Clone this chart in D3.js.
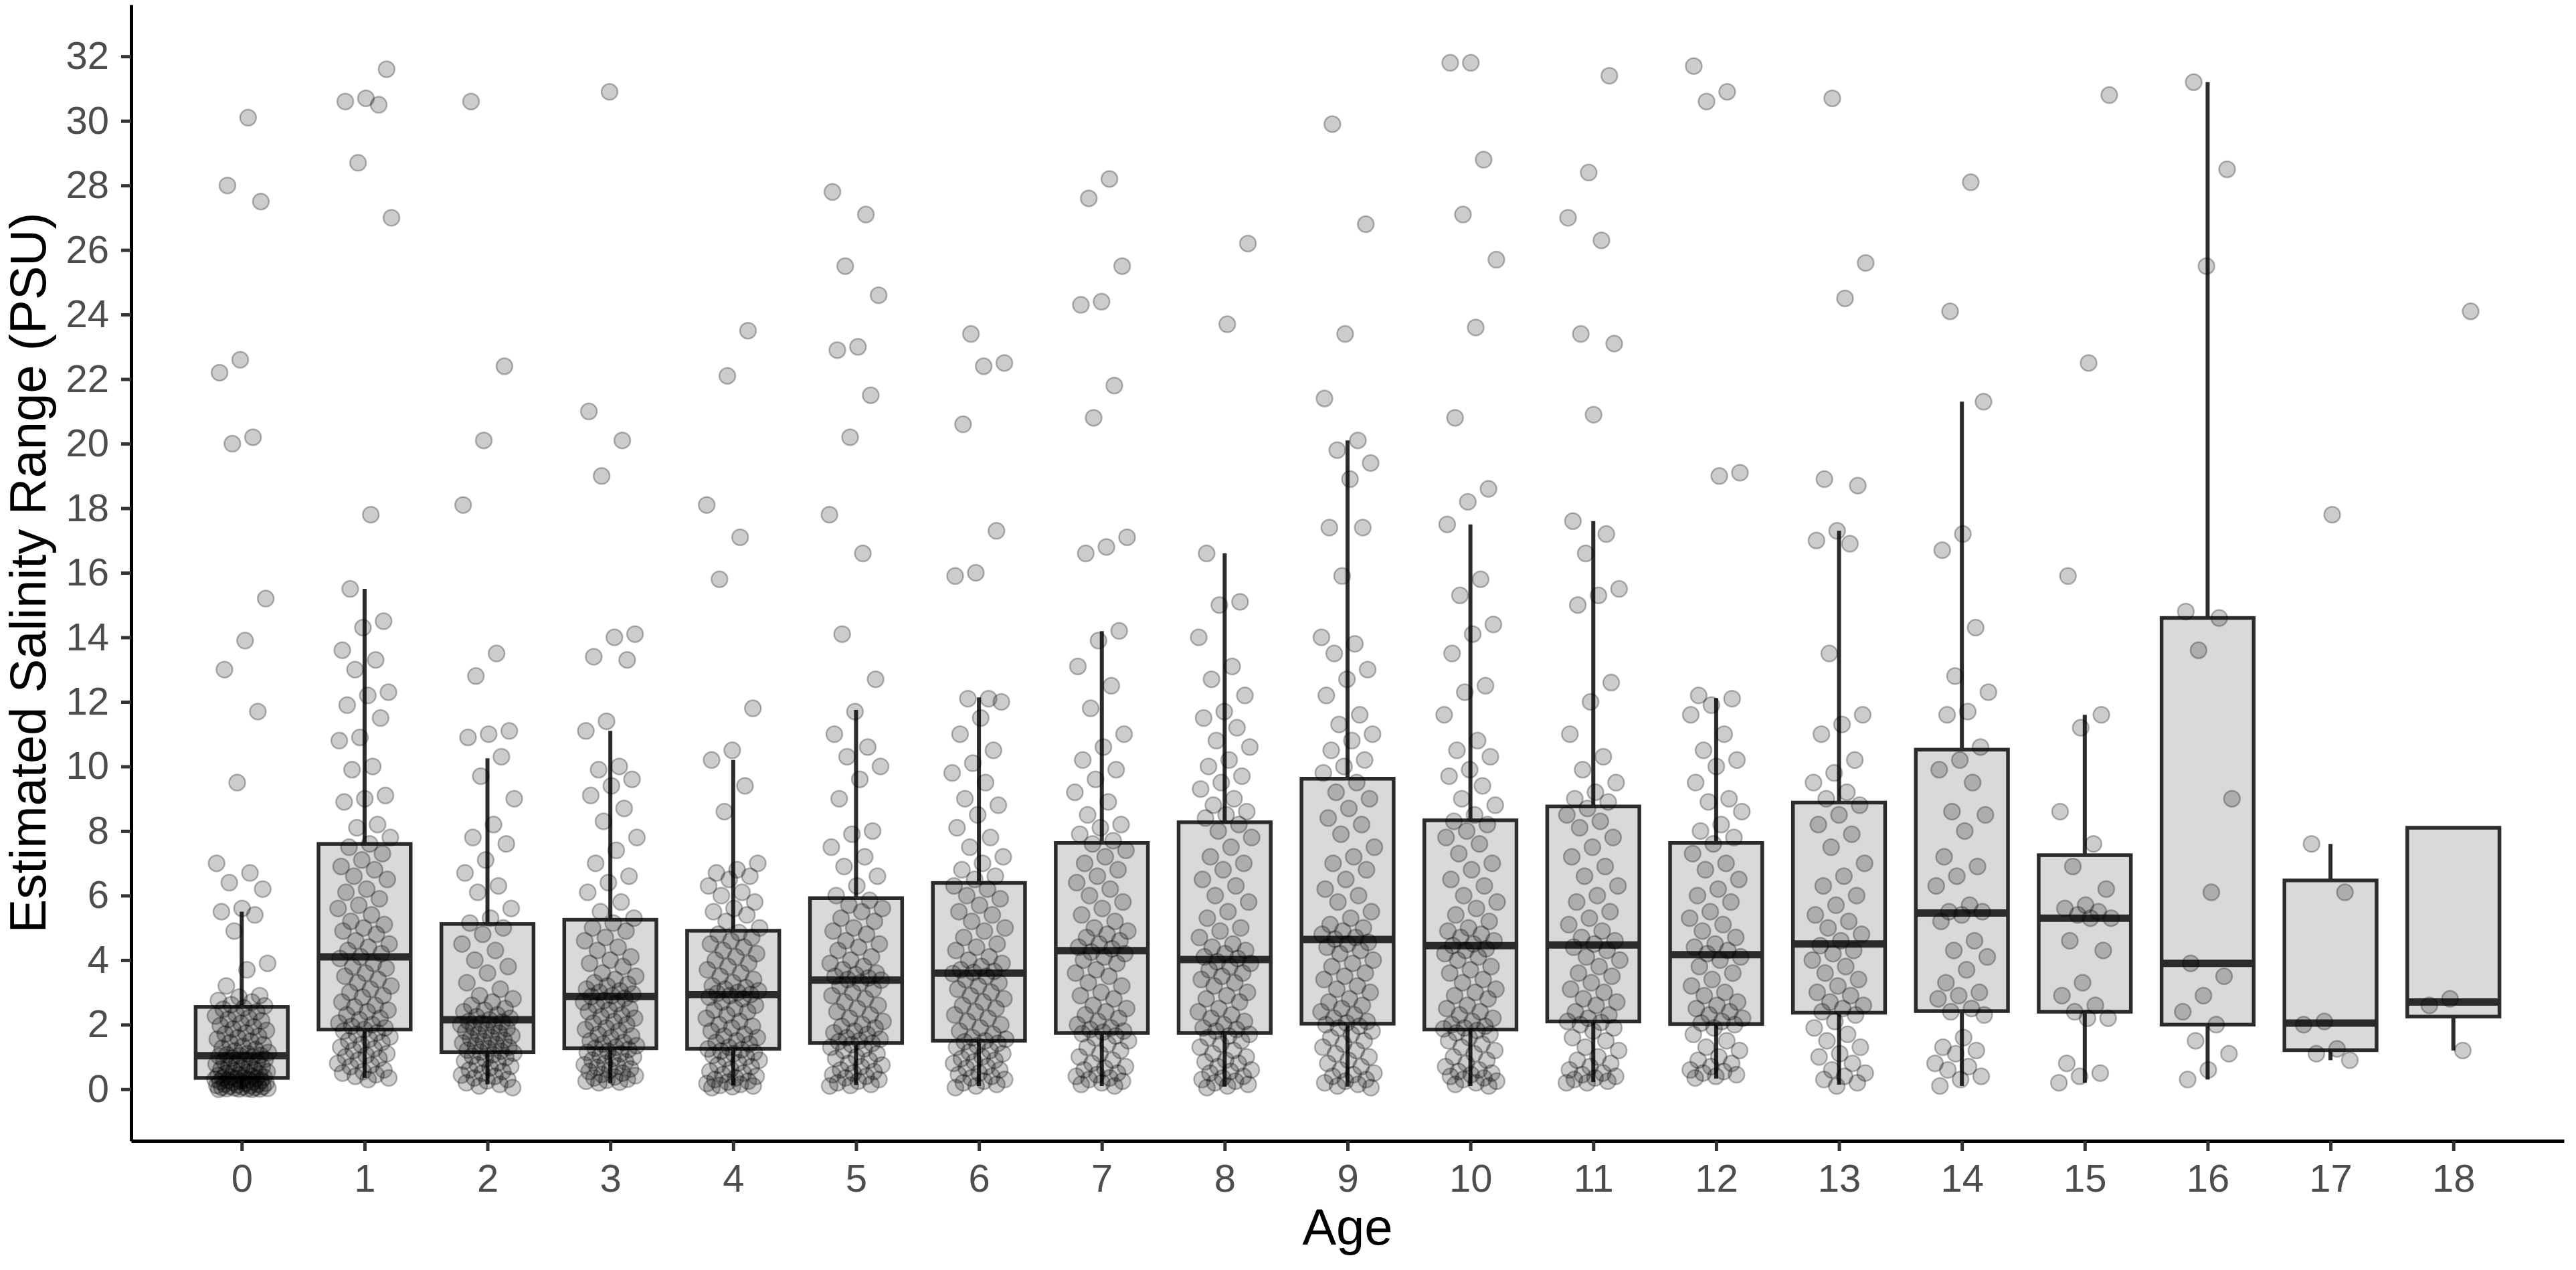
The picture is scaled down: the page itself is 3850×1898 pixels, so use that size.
<!DOCTYPE html>
<html>
<head>
<meta charset="utf-8">
<script src="https://cdn.jsdelivr.net/npm/d3@7"></script>
<style>
  body { margin: 0; background: #fff; }
  svg { display: block; }
</style>
</head>
<body>
<script>
const width = 3850;
const height = 1898;
const margin = {top: 7, right: 18, bottom: 193, left: 196};

// categories and tick labels
const ages = [0, 1, 2, 3, 4, 5, 6, 7, 8, 9, 10, 11, 12, 13, 14, 15, 16, 17, 18];
const yTicks = [0, 2, 4, 6, 8, 10, 12, 14, 16, 18, 20, 22, 24, 26, 28, 30, 32];

// boxplot summaries
const q1 = [0.35, 1.85, 1.15, 1.27, 1.25, 1.43, 1.5, 1.74, 1.74, 2.03, 1.85, 2.1, 2.02, 2.37, 2.42, 2.4, 2.0, 1.21, 2.25];
const median = [1.04, 4.1, 2.15, 2.87, 2.93, 3.38, 3.6, 4.29, 4.02, 4.64, 4.45, 4.47, 4.17, 4.5, 5.46, 5.3, 3.9, 2.05, 2.7];
const q3 = [2.55, 7.6, 5.12, 5.25, 4.91, 5.92, 6.39, 7.63, 8.27, 9.62, 8.33, 8.76, 7.63, 8.88, 10.52, 7.25, 14.6, 6.47, 8.1];
const whiskerLow = [0.0, 0.35, 0.15, 0.19, 0.12, 0.13, 0.1, 0.1, 0.08, 0.08, 0.1, 0.22, 0.33, 0.14, 0.1, 0.2, 0.3, 0.9, 1.2];
const whiskerHigh = [5.5, 15.5, 10.25, 11.1, 10.2, 11.75, 12.14, 14.19, 16.6, 20.1, 17.5, 17.6, 12.12, 17.3, 21.3, 11.6, 31.2, 7.6, 8.1];

// individual fish values per age
const age0 = [30.1,28.0,27.5,22.6,22.2,20.2,20.0,15.2,13.9,13.0,11.7,9.5,7.0,6.7,6.4,6.2,5.6,5.5,5.4,4.9,3.9,3.7,3.2,2.9,2.85,2.75,2.7,2.62,2.58,2.52,
  2.48,2.4,2.33,2.27,2.21,2.16,2.12,2.04,1.97,1.93,1.86,1.82,1.74,1.71,1.64,1.6,1.55,1.49,1.44,1.38,1.33,1.27,1.23,1.19,1.14,1.1,1.07,1.05,1.04,1.02,
  0.99,0.96,0.93,0.9,0.87,0.83,0.8,0.78,0.74,0.71,0.69,0.66,0.62,0.6,0.57,0.54,0.52,0.49,0.47,0.44,0.42,0.4,0.38,0.37,0.36,0.35,0.34,0.33,0.31,0.3,
  0.28,0.27,0.25,0.24,0.22,0.21,0.19,0.18,0.16,0.15,0.13,0.12,0.11,0.09,0.08,0.07,0.06,0.05,0.04,0.03,0.02,0.02,0.01,0.01,0.0,0.0];
const age1 = [31.6,30.7,30.6,30.5,28.7,27.0,17.8,15.5,14.5,14.3,13.6,13.3,13.0,12.3,12.2,11.9,11.5,10.9,10.8,10.0,9.9,9.1,9.0,8.9,8.2,8.1,7.8,7.6,
  7.5,7.3,7.1,6.9,6.8,6.6,6.5,6.2,6.1,5.9,5.7,5.6,5.4,5.2,5.1,5.0,4.9,4.8,4.6,4.5,4.4,4.3,4.2,4.1,
  4.05,3.9,3.8,3.75,3.6,3.5,3.4,3.3,3.2,3.1,3.0,2.9,2.85,2.7,2.6,2.55,2.45,2.4,2.3,2.2,2.15,2.05,2.0,1.95,1.9,1.85,
  1.8,1.75,1.7,1.62,1.55,1.5,1.45,1.38,1.3,1.25,1.2,1.1,1.05,1.0,0.95,0.9,0.8,0.75,0.7,0.6,0.55,0.5,0.45,0.4,0.35,0.3];
const age2 = [30.6,22.4,20.1,18.1,13.5,12.8,11.1,11.0,10.9,10.3,9.7,9.0,8.2,7.8,7.6,7.1,6.7,6.3,6.1,5.6,5.3,5.15,
  5.0,4.8,4.5,4.3,4.0,3.8,3.6,3.3,3.1,2.9,2.8,2.7,2.6,2.5,2.45,2.4,2.3,2.25,2.2,2.15,2.1,
  2.08,2.04,2.0,1.96,1.92,1.88,1.83,1.79,1.74,1.7,1.66,1.61,1.57,1.52,1.48,1.43,1.39,1.35,1.3,1.26,1.21,1.18,1.15,
  1.12,1.07,1.02,0.98,0.93,0.87,0.82,0.76,0.71,0.66,0.6,0.55,0.5,0.44,0.4,0.35,0.3,0.26,0.2,0.15,0.1,0.05];
const age3 = [30.9,21.0,20.1,19.0,14.1,14.0,13.4,13.3,11.4,11.1,10.0,9.9,9.6,9.4,9.1,8.7,8.3,7.8,7.4,7.0,6.6,6.4,6.1,5.8,5.5,5.3,
  5.15,5.0,4.9,4.7,4.6,4.4,4.3,4.1,4.0,3.9,3.8,3.6,3.5,3.4,3.3,3.25,3.2,3.1,3.05,3.0,2.95,2.9,2.87,
  2.82,2.75,2.7,2.65,2.6,2.5,2.45,2.4,2.3,2.25,2.2,2.1,2.05,2.0,1.9,1.85,1.8,1.7,1.65,1.6,1.5,1.45,1.4,1.35,1.3,1.27,
  1.23,1.18,1.14,1.1,1.05,1.0,0.95,0.9,0.85,0.8,0.76,0.72,0.68,0.63,0.6,0.55,0.5,0.46,0.42,0.38,0.35,0.31,0.28,0.25,0.22,0.2];
const age4 = [23.5,22.1,18.1,17.1,15.8,11.8,10.5,10.2,9.4,8.6,7.0,6.8,6.7,6.6,6.5,6.3,6.1,6.0,5.8,5.6,5.5,5.4,5.2,5.0,
  4.85,4.8,4.7,4.6,4.5,4.4,4.3,4.2,4.1,4.0,3.9,3.8,3.7,3.6,3.5,3.4,3.3,3.2,3.15,3.1,3.05,3.0,2.97,
  2.93,2.9,2.85,2.8,2.7,2.6,2.5,2.45,2.4,2.3,2.2,2.1,2.0,1.95,1.9,1.8,1.7,1.65,1.6,1.5,1.45,1.4,1.3,1.25,1.22,
  1.18,1.14,1.1,1.05,1.0,0.95,0.9,0.82,0.75,0.7,0.62,0.55,0.5,0.45,0.4,0.35,0.3,0.25,0.22,0.18,0.15,0.12,0.1,0.08,0.05];
const age5 = [27.8,27.1,25.5,24.6,23.0,22.9,21.5,20.2,17.8,16.6,14.1,12.7,11.7,11.0,10.6,10.3,10.0,9.6,9.0,8.0,7.9,7.5,7.2,6.9,6.6,6.3,6.0,
  5.85,5.7,5.6,5.5,5.3,5.2,5.0,4.9,4.8,4.6,4.5,4.4,4.3,4.1,4.0,3.9,3.8,3.7,3.6,3.55,3.5,3.45,3.4,3.38,
  3.3,3.2,3.1,3.0,2.9,2.8,2.7,2.6,2.5,2.4,2.3,2.2,2.1,2.0,1.95,1.9,1.8,1.75,1.7,1.6,1.55,1.5,1.47,
  1.42,1.38,1.3,1.25,1.2,1.1,1.0,0.95,0.9,0.8,0.75,0.7,0.6,0.55,0.5,0.45,0.4,0.35,0.3,0.25,0.2,0.15,0.12,0.1];
const age6 = [23.4,22.5,22.4,20.6,17.3,16.0,15.9,12.1,12.1,12.0,11.5,11.0,10.5,10.1,9.8,9.5,9.0,8.8,8.5,8.1,7.8,7.5,7.2,7.0,6.8,6.6,6.5,
  6.3,6.2,6.0,5.9,5.7,5.5,5.4,5.2,5.0,4.9,4.7,4.5,4.4,4.3,4.1,4.0,3.9,3.8,3.7,3.65,3.62,
  3.58,3.5,3.4,3.3,3.2,3.1,3.0,2.9,2.8,2.7,2.6,2.5,2.4,2.3,2.2,2.1,2.0,1.9,1.8,1.7,1.6,1.55,1.5,1.47,
  1.42,1.35,1.3,1.2,1.15,1.1,1.0,0.95,0.9,0.85,0.8,0.7,0.65,0.6,0.5,0.45,0.4,0.35,0.3,0.25,0.2,0.15,0.1,0.05];
const age7 = [28.2,27.6,25.5,24.4,24.3,21.8,20.8,17.1,16.8,16.6,14.2,13.9,13.1,12.5,11.8,11.0,10.6,10.2,9.9,9.6,9.2,8.9,8.5,8.2,8.1,7.9,7.7,
  7.6,7.4,7.2,7.0,6.8,6.6,6.4,6.2,6.0,5.8,5.6,5.4,5.2,5.0,4.9,4.8,4.7,4.6,4.5,4.4,4.35,
  4.25,4.2,4.1,4.0,3.9,3.7,3.6,3.5,3.3,3.2,3.0,2.9,2.8,2.6,2.5,2.4,2.3,2.2,2.1,2.0,1.9,1.85,1.8,1.77,
  1.72,1.65,1.6,1.5,1.4,1.3,1.2,1.1,1.0,0.9,0.8,0.7,0.65,0.6,0.5,0.45,0.4,0.35,0.3,0.25,0.2,0.15,0.1];
const age8 = [26.2,23.7,16.6,15.1,15.0,14.0,13.1,12.7,12.2,11.7,11.5,11.2,10.8,10.6,10.2,10.0,9.7,9.5,9.3,9.0,8.8,8.6,8.5,8.4,
  8.2,8.0,7.8,7.5,7.2,7.0,6.8,6.5,6.3,6.0,5.8,5.5,5.3,5.0,4.9,4.7,4.5,4.4,4.3,4.2,4.1,4.05,
  3.95,3.9,3.8,3.7,3.6,3.5,3.4,3.3,3.2,3.0,2.9,2.8,2.7,2.5,2.4,2.3,2.2,2.1,2.0,1.9,1.85,1.8,
  1.7,1.65,1.6,1.5,1.4,1.3,1.2,1.1,1.0,0.9,0.85,0.8,0.7,0.6,0.55,0.5,0.4,0.35,0.3,0.25,0.2,0.15,0.1,0.05];
const age9 = [29.9,26.8,23.4,21.4,20.1,19.8,19.4,18.9,17.4,17.4,15.9,14.0,13.8,13.5,13.0,12.7,12.2,11.6,11.3,11.0,10.8,10.5,10.2,10.0,9.8,
  9.5,9.2,9.0,8.7,8.4,8.2,7.9,7.5,7.2,7.0,6.8,6.5,6.2,6.0,5.8,5.5,5.3,5.1,5.0,4.9,4.8,4.7,4.65,
  4.55,4.5,4.4,4.3,4.2,4.0,3.9,3.8,3.6,3.5,3.4,3.2,3.1,3.0,2.8,2.7,2.6,2.5,2.4,2.3,2.2,2.1,2.05,2.0,
  1.95,1.9,1.8,1.7,1.6,1.5,1.4,1.3,1.2,1.1,1.0,0.9,0.8,0.7,0.6,0.5,0.45,0.4,0.3,0.25,0.2,0.15,0.1,0.05];
const age10 = [31.8,31.8,28.8,27.1,25.7,23.6,20.8,18.6,18.2,17.5,15.8,15.3,14.4,14.1,13.5,12.5,12.3,11.6,10.8,10.5,10.3,9.9,9.7,9.4,9.0,8.8,8.5,
  8.3,8.2,8.0,7.8,7.6,7.3,7.0,6.8,6.5,6.3,6.0,5.8,5.6,5.4,5.2,5.0,4.9,4.8,4.7,4.6,4.5,4.45,
  4.35,4.3,4.2,4.1,4.0,3.8,3.7,3.6,3.4,3.3,3.1,3.0,2.9,2.8,2.6,2.5,2.4,2.3,2.2,2.1,2.0,1.95,1.9,1.87,
  1.82,1.75,1.7,1.6,1.5,1.4,1.3,1.2,1.1,1.0,0.9,0.8,0.7,0.6,0.55,0.5,0.45,0.4,0.35,0.3,0.25,0.2,0.15,0.1];
const age11 = [31.4,28.4,27.0,26.3,23.4,23.1,20.9,17.6,17.2,16.6,15.5,15.3,15.0,12.6,12.0,11.0,10.3,9.9,9.5,9.2,9.0,8.9,
  8.7,8.5,8.3,8.1,7.8,7.5,7.2,6.9,6.6,6.3,6.0,5.8,5.5,5.3,5.1,4.9,4.7,4.6,4.5,
  4.4,4.3,4.1,4.0,3.8,3.6,3.5,3.3,3.1,3.0,2.8,2.7,2.6,2.4,2.3,2.2,2.1,2.07,
  2.0,1.9,1.8,1.6,1.5,1.3,1.2,1.0,0.9,0.8,0.7,0.6,0.5,0.45,0.4,0.35,0.3,0.25,0.2,0.2];
const age12 = [31.7,30.9,30.6,19.1,19.0,12.2,12.1,11.9,11.6,11.0,10.5,10.2,10.0,9.5,9.0,8.9,8.6,8.2,8.0,7.8,
  7.6,7.3,7.0,6.8,6.5,6.2,6.0,5.8,5.5,5.3,5.1,4.9,4.7,4.5,4.4,4.3,4.2,
  4.1,4.0,3.8,3.6,3.4,3.2,3.0,2.9,2.7,2.6,2.5,2.4,2.3,2.2,2.1,2.05,2.0,
  1.9,1.7,1.5,1.3,1.2,1.0,0.9,0.8,0.7,0.6,0.55,0.5,0.45,0.4,0.35];
const age13 = [30.7,25.6,24.5,18.9,18.7,17.3,17.0,16.9,13.5,11.6,11.3,11.0,10.2,9.8,9.5,9.2,9.0,
  8.8,8.5,8.2,7.9,7.5,7.0,6.6,6.3,6.0,5.7,5.4,5.2,5.0,4.8,4.6,
  4.45,4.3,4.2,4.0,3.8,3.6,3.4,3.2,3.0,2.9,2.7,2.6,2.5,2.4,
  2.3,2.1,1.9,1.7,1.5,1.3,1.1,1.0,0.8,0.6,0.5,0.4,0.3,0.2,0.1];
const age14 = [28.1,24.1,21.3,17.2,16.7,14.3,12.8,12.3,11.7,11.6,10.6,
  10.2,9.9,9.5,8.6,8.5,8.0,7.2,6.9,6.6,6.3,5.7,5.5,5.5,
  5.4,5.2,4.6,4.3,4.1,3.7,3.3,3.0,2.9,2.8,2.5,2.4,
  2.3,1.6,1.3,1.2,1.1,0.8,0.7,0.6,0.4,0.3,0.1];
const age15 = [30.8,22.5,15.9,11.6,11.2,8.6,7.6,6.9,6.2,5.7,5.6,5.5,5.4,5.3,5.3,4.6,4.3,3.3,2.9,2.6,2.4,2.2,2.2,0.8,0.5,0.4,0.2];
const age16 = [31.2,28.5,25.5,14.8,14.6,13.6,9.0,6.1,3.9,3.5,2.9,2.4,2.0,1.5,1.1,0.6,0.3];
const age17 = [17.8,7.6,6.1,2.1,2.0,1.25,1.1,0.9];
const age18 = [24.1,2.8,2.6,1.2];

const values = [age0, age1, age2, age3, age4, age5, age6, age7, age8, age9,
  age10, age11, age12, age13, age14, age15, age16, age17, age18];

const x = d3.scaleLinear()
  .domain([-0.9, 18.9])
  .range([margin.left, width - margin.right]);

const y = d3.scaleLinear()
  .domain([-1.6, 33.6])
  .range([height - margin.bottom, margin.top]);

const step = x(1) - x(0);
const boxW = step * 0.75;

// spread points sideways, like geom_jitter(width = .22)
const jitter = (i, k) => (((i + 1) * 0.6180339887 + k * 0.289) % 1 - 0.5) * 2 * 0.22;

const font = '"Liberation Sans", Arial, sans-serif';

const svg = d3.select('body').append('svg')
  .attr('width', width)
  .attr('height', height)
  .style('font-family', font);

const xAxis = g => g
  .attr('transform', `translate(0,${height - margin.bottom})`)
  .call(d3.axisBottom(x).tickValues(ages).tickFormat(d3.format('d')).tickSize(15).tickSizeOuter(0).tickPadding(20))
  .call(g => g.select('.domain').attr('stroke', '#000').attr('stroke-width', 5))
  .call(g => g.selectAll('.tick line').attr('stroke', '#333').attr('stroke-width', 5))
  .call(g => g.selectAll('.tick text').attr('fill', '#4d4d4d').style('font-size', '58px').style('font-family', font));

const yAxis = g => g
  .attr('transform', `translate(${margin.left},0)`)
  .call(d3.axisLeft(y).tickValues(yTicks).tickFormat(d3.format('d')).tickSize(15).tickSizeOuter(0).tickPadding(18))
  .call(g => g.select('.domain').attr('stroke', '#000').attr('stroke-width', 5))
  .call(g => g.selectAll('.tick line').attr('stroke', '#333').attr('stroke-width', 5))
  .call(g => g.selectAll('.tick text').attr('fill', '#4d4d4d').style('font-size', '58px').style('font-family', font));

const boxes = ages.map((a, k) => ({
  age: a, q1: q1[k], med: median[k], q3: q3[k], lo: whiskerLow[k], hi: whiskerHigh[k]
}));

const bg = svg.append('g');

bg.selectAll('.wh')
  .data(boxes)
  .join('line')
  .attr('x1', d => x(d.age)).attr('x2', d => x(d.age))
  .attr('y1', d => y(d.hi)).attr('y2', d => y(d.q3))
  .attr('stroke', '#2b2b2b').attr('stroke-width', 6);

bg.selectAll('.wl')
  .data(boxes)
  .join('line')
  .attr('x1', d => x(d.age)).attr('x2', d => x(d.age))
  .attr('y1', d => y(d.q1)).attr('y2', d => y(d.lo))
  .attr('stroke', '#2b2b2b').attr('stroke-width', 6);

bg.selectAll('rect')
  .data(boxes)
  .join('rect')
  .attr('x', d => x(d.age) - boxW / 2)
  .attr('width', boxW)
  .attr('y', d => y(d.q3))
  .attr('height', d => y(d.q1) - y(d.q3))
  .attr('fill', '#d9d9d9')
  .attr('stroke', '#2b2b2b')
  .attr('stroke-width', 5.5);

bg.selectAll('.med')
  .data(boxes)
  .join('line')
  .attr('x1', d => x(d.age) - boxW / 2).attr('x2', d => x(d.age) + boxW / 2)
  .attr('y1', d => y(d.med)).attr('y2', d => y(d.med))
  .attr('stroke', '#2b2b2b').attr('stroke-width', 11);

const pts = [];
values.forEach((vals, k) => vals.forEach((v, i) => pts.push({age: ages[k], v, j: jitter(i, k)})));

svg.append('g')
  .selectAll('circle')
  .data(pts)
  .join('circle')
  .attr('cx', d => x(d.age + d.j))
  .attr('cy', d => y(d.v))
  .attr('r', 12)
  .attr('fill', '#000')
  .attr('fill-opacity', 0.2)
  .attr('stroke', '#000')
  .attr('stroke-opacity', 0.28)
  .attr('stroke-width', 2.5);

svg.append('g').call(xAxis);
svg.append('g').call(yAxis);

// axis titles
svg.append('text')
  .attr('x', (margin.left + width - margin.right) / 2)
  .attr('y', 1860)
  .attr('text-anchor', 'middle')
  .attr('fill', '#000')
  .style('font-size', '76px')
  .text('Age');

svg.append('text')
  .attr('transform', `translate(68,${(margin.top + height - margin.bottom) / 2}) rotate(-90)`)
  .attr('text-anchor', 'middle')
  .attr('fill', '#000')
  .style('font-size', '76px')
  .text('Estimated Salinity Range (PSU)');
</script>
</body>
</html>
